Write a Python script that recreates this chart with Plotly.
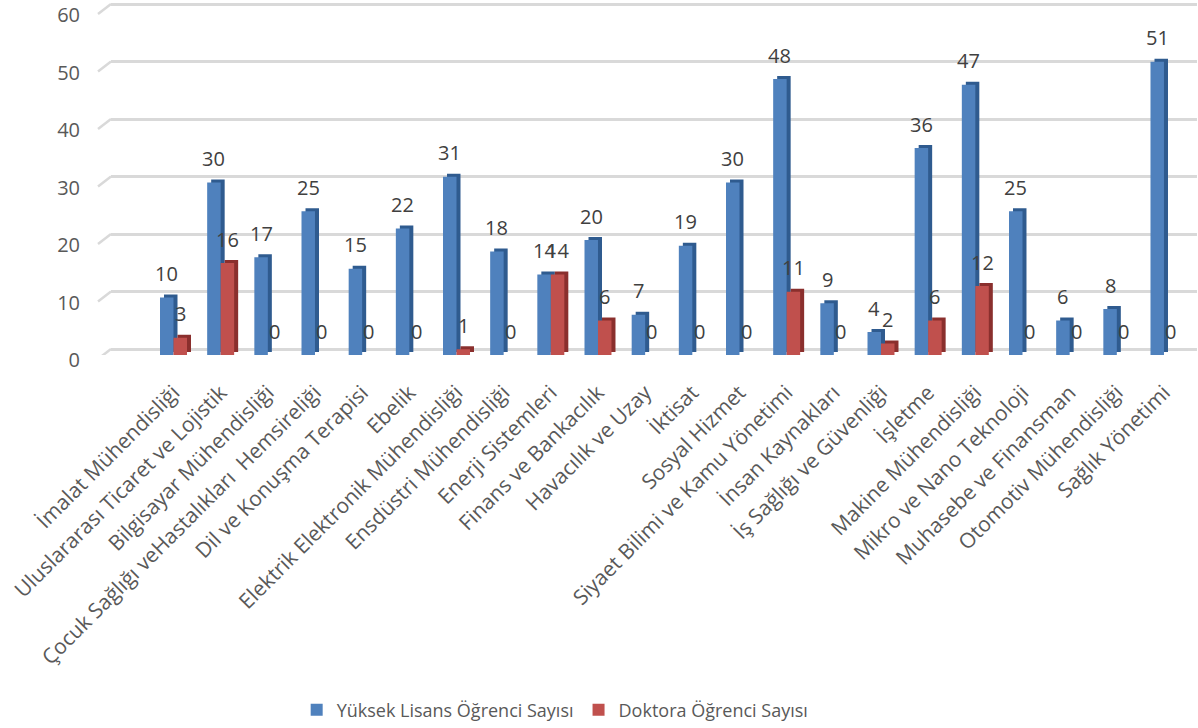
import plotly.graph_objects as go

categories = [
    "İmalat Mühendisliği",
    "Uluslararası Ticaret ve Lojistik",
    "Bilgisayar Mühendisliği",
    "Çocuk Sağlığı veHastalıkları \u00a0Hemsireliği",
    "Dil ve Konuşma Terapisi",
    "Ebelik",
    "Elektrik Elektronik Mühendisliği",
    "Ensdüstri Mühendisliği",
    "Enerji Sistemleri",
    "Finans ve Bankacılık",
    "Havacılık ve Uzay",
    "İktisat",
    "Sosyal Hizmet",
    "Siyaet Bilimi ve Kamu Yönetimi",
    "İnsan Kaynakları",
    "İş Sağlığı ve Güvenliği",
    "İşletme",
    "Makine Mühendisliği",
    "Mikro ve Nano Teknoloji",
    "Muhasebe ve Finansman",
    "Otomotiv Mühendisliği",
    "Sağlık Yönetimi",
]
yuksek_lisans = [10, 30, 17, 25, 15, 22, 31, 18, 14, 20, 7, 19, 30, 48, 9, 4, 36, 47, 25, 6, 8, 51]
doktora = [3, 16, 0, 0, 0, 0, 1, 0, 14, 6, 0, 0, 0, 11, 0, 2, 6, 12, 0, 0, 0, 0]
series_names = ["Yüksek Lisans Öğrenci Sayısı", "Doktora Öğrenci Sayısı"]
y_ticks = [0, 10, 20, 30, 40, 50, 60]

FONT = "Open Sans"
BLUE, BLUE_SIDE = "#4F81BD", "#2F5B8F"
RED, RED_SIDE = "#C0504D", "#8A2F2D"

W, H = 1198, 728
L, R, T, B = 111, 1, 2, 373
plot_h = H - T - B
px_per_unit = 5.75
y_top = plot_h / px_per_unit
grid_shift = 6 / px_per_unit      # back wall offset
bw = 0.286                        # front face width (category units)
side = 0.085                      # depth to the right
cap = 0.52                        # depth upward
cat_px = 47.17

fig = go.Figure()

for vals, front, sidec, off, name in [
    (yuksek_lisans, BLUE, BLUE_SIDE, -bw, series_names[0]),
    (doktora, RED, RED_SIDE, 0.0, series_names[1]),
]:
    fig.add_trace(go.Bar(
        x=categories, y=vals, base=cap, width=bw, offset=off + side,
        marker=dict(color=sidec, line=dict(width=0)),
        showlegend=False, hoverinfo="skip",
    ))
    fig.add_trace(go.Bar(
        x=categories, y=vals, width=bw, offset=off, name=name,
        marker=dict(color=front, line=dict(width=0)),
    ))

# invisible trace to activate the back-wall grid axis
fig.add_trace(go.Scatter(x=categories, y=yuksek_lisans, yaxis="y2", mode="markers",
                         marker=dict(opacity=0), showlegend=False, hoverinfo="skip"))

annotations = []
for vals, sgn in [(yuksek_lisans, -1), (doktora, 1)]:
    for cat, v in zip(categories, vals):
        annotations.append(dict(x=cat, y=v, xref="x", yref="y", text=str(v), showarrow=False,
                                xshift=sgn * bw * cat_px / 2, yshift=24, yanchor="middle",
                                font=dict(family=FONT, size=20, color="#404040")))

shapes = []
for t in y_ticks:
    shapes.append(dict(type="line", xref="paper", yref="y2", layer="below",
                       x0=-13 / (W - L - R), x1=0, y0=t - 10 / px_per_unit, y1=t,
                       line=dict(color="#D9D9D9", width=2.5)))

fig.update_layout(
    width=W, height=H,
    margin=dict(l=L, r=R, t=T, b=B, autoexpand=False),
    paper_bgcolor="white", plot_bgcolor="white",
    barmode="overlay",
    font=dict(family=FONT, color="#595959"),
    annotations=annotations,
    shapes=shapes,
    xaxis=dict(
        type="category", range=[-1.325, 21.70], showgrid=False, zeroline=False,
        showline=False, ticks="outside", ticklen=16, tickcolor="rgba(0,0,0,0)",
        tickangle=-45,
        tickfont=dict(family=FONT, size=21, color="#595959"),
    ),
    yaxis=dict(
        range=[0, y_top], tickvals=y_ticks, showgrid=False, zeroline=False,
        showline=False, ticks="", ticklabelstandoff=30, ticklabeloverflow="allow",
        ticklabelshift=5,
        tickfont=dict(family=FONT, size=20, color="#595959"),
    ),
    yaxis2=dict(
        overlaying="y", range=[-grid_shift, y_top - grid_shift], tickvals=y_ticks,
        showgrid=True, gridcolor="#D9D9D9", gridwidth=2.5, zeroline=False,
        showticklabels=False, showline=False, ticks="",
    ),
    legend=dict(
        orientation="h", x=0.409, xanchor="center", y=(355 - 710) / plot_h,
        yanchor="middle", font=dict(family=FONT, size=18, color="#595959"),
        bgcolor="rgba(0,0,0,0)",
    ),
)

fig.write_html("out.html", config={"displayModeBar": False},
               post_script="document.body.style.margin='0';")
